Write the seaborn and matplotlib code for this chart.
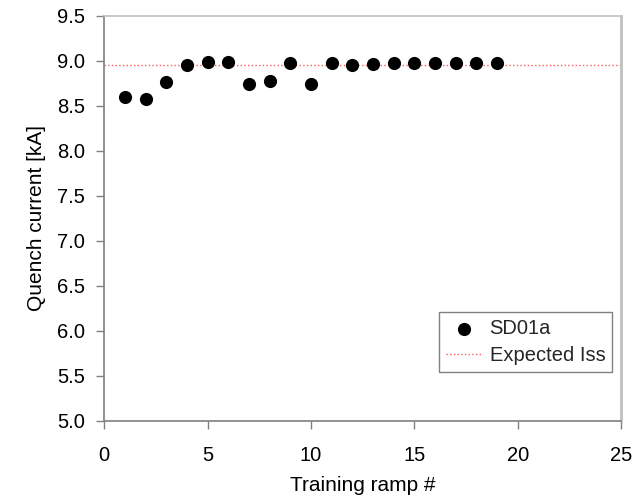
import numpy as np
import pandas as pd
import seaborn as sns
import matplotlib.pyplot as plt

# training ramp data
ramp = list(range(1, 20))
quench_ka = [8.60, 8.58, 8.77, 8.95, 8.99, 8.99, 8.74, 8.78, 8.98, 8.74,
             8.98, 8.95, 8.965, 8.975, 8.98, 8.98, 8.98, 8.98, 8.975]
expected_iss = 8.95
series_name = 'SD01a'

df = pd.DataFrame({'ramp': ramp, 'quench': quench_ka})

sns.set_theme(style='white')
plt.rcParams['font.family'] = ['Liberation Sans', 'DejaVu Sans']

fig = plt.figure(figsize=(6.39, 4.98), dpi=100)
ax = fig.add_axes([0.163, 0.155, 0.809, 0.813])

sns.scatterplot(data=df, x='ramp', y='quench', ax=ax, color='black', s=90,
                edgecolor='black', linewidth=0, label=series_name, zorder=3)
ax.axhline(expected_iss, color='#ff5a5a', linestyle=':', linewidth=1.0,
           label='Expected Iss', zorder=2)

ax.set_xlim(0, 25)
ax.set_ylim(5.0, 9.5)
ax.set_xticks(np.arange(0, 26, 5))
ax.set_yticks(np.arange(5.0, 9.51, 0.5))
ax.set_yticklabels([f'{v:.1f}' for v in np.arange(5.0, 9.51, 0.5)])
ax.set_xlabel('Training ramp #', fontsize=15, color='black', labelpad=8)
ax.set_ylabel('Quench current [kA]', fontsize=15, color='black', labelpad=8)
ax.tick_params(axis='both', labelsize=14.5, colors='black', direction='out',
               length=6, width=1, color='#808080', left=True, bottom=True)
ax.tick_params(axis='y', pad=8)
ax.tick_params(axis='x', pad=12)

for side in ['left', 'bottom']:
    ax.spines[side].set_color('#808080')
    ax.spines[side].set_linewidth(1.2)
for side in ['top', 'right']:
    ax.spines[side].set_color('#c0c0c0')
ax.spines['top'].set_linewidth(1.2)
ax.spines['right'].set_linewidth(2.0)

leg = ax.legend(loc='lower right', bbox_to_anchor=(0.983, 0.12), fontsize=14.5,
                frameon=True, fancybox=False, handlelength=1.75, handletextpad=0.4,
                borderpad=0.35, labelspacing=0.4, borderaxespad=0)
leg.get_frame().set_edgecolor('#606060')
leg.get_frame().set_linewidth(1.0)

fig.savefig('out.png', dpi=100)
